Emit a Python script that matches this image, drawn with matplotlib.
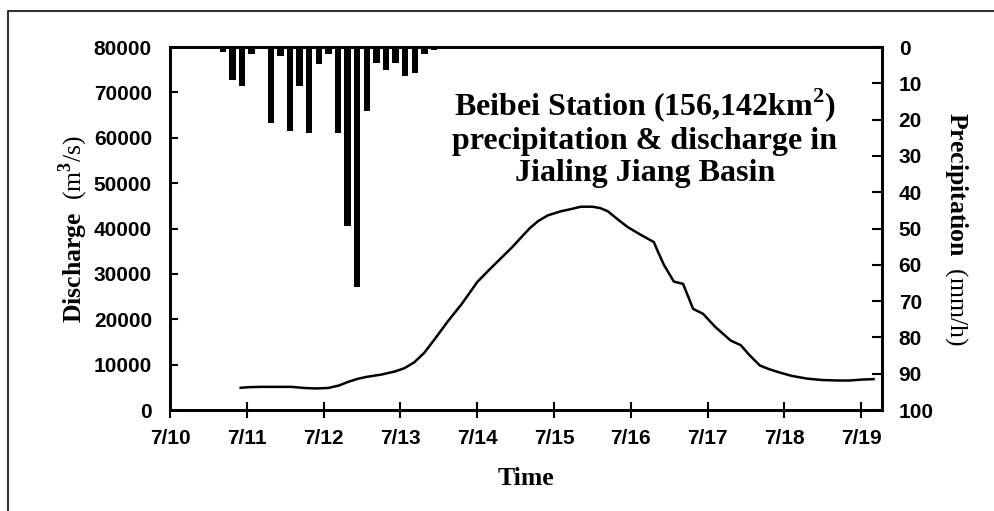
import numpy as np
import matplotlib
matplotlib.use('Agg')
import matplotlib.pyplot as plt
from matplotlib.lines import Line2D

plt.rcParams['font.family'] = 'Liberation Sans'
plt.rcParams['font.weight'] = 'bold'
plt.rcParams['mathtext.fontset'] = 'custom'
plt.rcParams['mathtext.rm'] = 'Liberation Serif'
plt.rcParams['mathtext.bf'] = 'Liberation Serif:bold'

# discharge, time in days after 7/10 00:00
q_day = [0.92, 1.05, 1.2, 1.4, 1.58, 1.75, 1.9, 2.06, 2.2, 2.32, 2.45, 2.56,
         2.75, 2.93, 3.05, 3.18, 3.31, 3.45, 3.62, 3.8, 4.0, 4.15, 4.3, 4.45,
         4.57, 4.68, 4.79, 4.92, 5.09, 5.2, 5.35, 5.5, 5.6, 5.7, 5.83, 5.96,
         6.13, 6.3, 6.35, 6.43, 6.56, 6.68, 6.81, 6.94, 7.1, 7.3, 7.43, 7.55,
         7.68, 7.8, 7.95, 8.1, 8.3, 8.5, 8.7, 8.85, 9.0, 9.16]
q_val = [4900, 5050, 5100, 5100, 5100, 4850, 4750, 4850, 5400, 6200, 6900, 7300,
         7800, 8500, 9200, 10500, 12600, 15700, 19600, 23400, 28200, 30800, 33300, 35800,
         38000, 40000, 41600, 42900, 43800, 44200, 44800, 44800, 44500, 43800, 42000, 40300,
         38600, 37000, 35000, 32000, 28300, 27800, 22300, 21200, 18300, 15300, 14300, 12000,
         9800, 9000, 8200, 7500, 6900, 6600, 6500, 6500, 6700, 6800]

# 3-hourly precipitation, bar centres in hours after 7/10 00:00
p_hour = [13.5, 16.5, 19.5, 22.5, 25.5, 28.5, 31.5, 34.5, 37.5, 40.5, 43.5, 46.5,
          49.5, 52.5, 55.5, 58.5, 61.5, 64.5, 67.5, 70.5, 73.5, 76.5, 79.5, 82.5]
p_val = [0.6, 1.4, 9.1, 10.8, 1.8, 0.0, 20.8, 2.6, 23.2, 10.8, 23.7, 4.7,
         2.0, 23.7, 49.3, 66.1, 17.6, 4.3, 6.2, 4.3, 8.0, 7.3, 1.8, 0.7]

day_labels = ['7/10', '7/11', '7/12', '7/13', '7/14', '7/15', '7/16', '7/17', '7/18', '7/19']
q_ticks = [0, 10000, 20000, 30000, 40000, 50000, 60000, 70000, 80000]
p_ticks = [0, 10, 20, 30, 40, 50, 60, 70, 80, 90, 100]

fig = plt.figure(figsize=(9.95, 5.11), dpi=100)
ax = fig.add_axes([170/995, 1-410/511, 712/995, 363/511])
ax2 = ax.twinx()

ax.plot(q_day, q_val, color='black', lw=1.8)
ax2.bar(np.array(p_hour)/24, p_val, width=0.085, color='black')

ax.set_xlim(0, 9.27)
ax.set_ylim(0, 80000)
ax2.set_ylim(100, 0)

ax.set_xticks(range(len(day_labels)))
ax.set_xticklabels(day_labels)
ax.set_yticks(q_ticks)
ax2.set_yticks(p_ticks)

ax.tick_params(axis='x', direction='inout', length=11, width=1.5, pad=8, labelsize=15)
ax.tick_params(axis='y', direction='in', length=6, width=1.5, pad=13, labelsize=15)
ax2.tick_params(axis='y', direction='in', length=7, width=1.5, pad=12, labelsize=15)

for a in (ax, ax2):
    for s in a.spines.values():
        s.set_linewidth(2)

serif = {'family': 'Liberation Serif', 'size': 18.5}
ax.set_xlabel('Time', fontdict=dict(serif, weight='bold'), va='center')
ax.xaxis.set_label_coords(0.5, -0.19)
ax.set_ylabel(r'$\mathbf{Discharge}$  (m$^3$/s)', fontdict=dict(serif, weight='normal'), va='center')
ax.yaxis.set_label_coords(-0.136, 0.5)
ax2.set_ylabel(r'$\mathbf{Precipitation}$  (mm/h)', fontdict=dict(serif, weight='normal'),
               rotation=270, va='center')
ax2.yaxis.set_label_coords(1.104, 0.5)

fig.text(645/995, 1-137/511,
         'Beibei Station (156,142km$^\\mathbf{2}$)\nprecipitation & discharge in\nJialing Jiang Basin',
         family='Liberation Serif', weight='bold', size=23, ha='center', va='center',
         linespacing=1.15)

# frame around the figure
fig.add_artist(Line2D([8/995, 8/995, 1], [0, 1-11/511, 1-11/511],
                      transform=fig.transFigure, color='#333333', lw=1.5))

fig.savefig('out.png', dpi=100)
